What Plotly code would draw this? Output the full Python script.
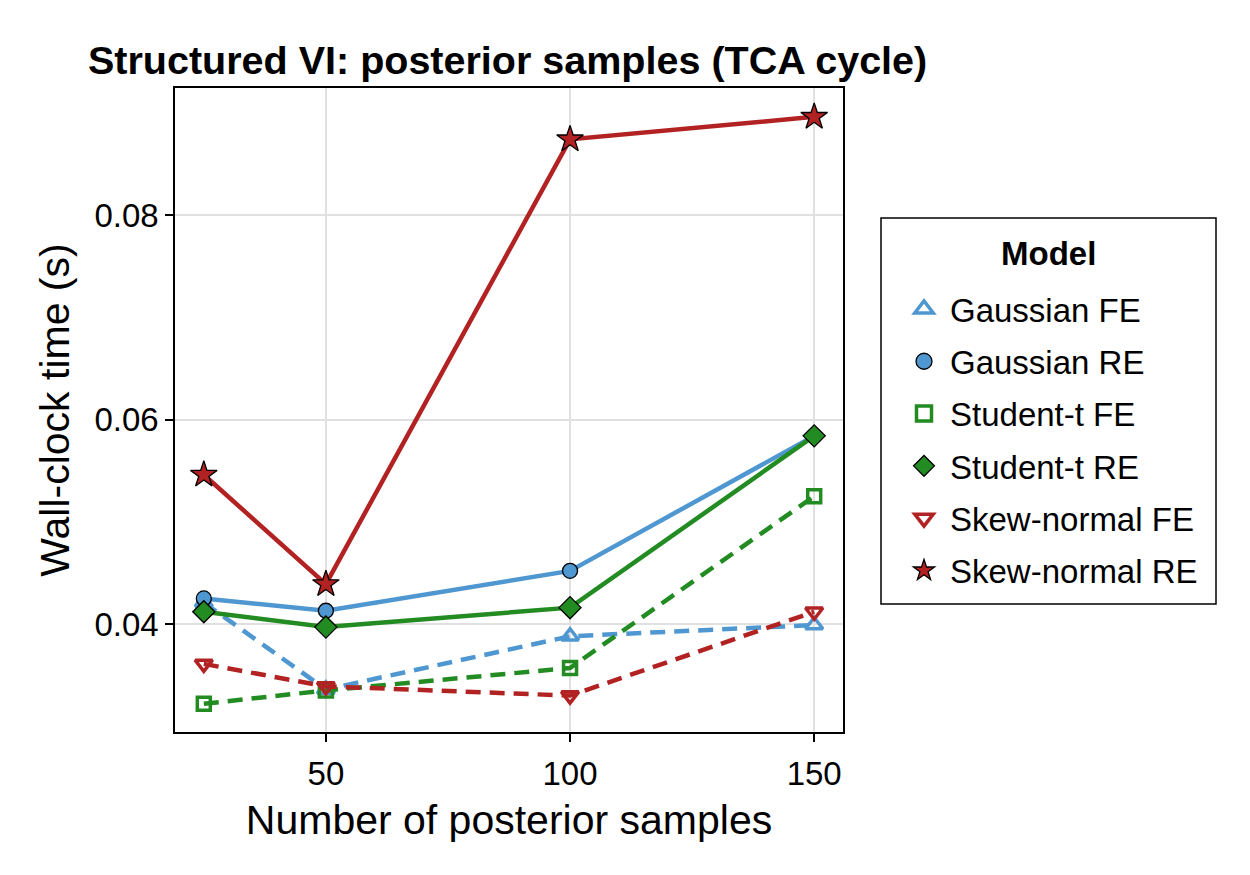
import plotly.graph_objects as go

samples = [25, 50, 100, 150]
gaussian_fe = [0.0421, 0.0336, 0.0388, 0.0399]
gaussian_re = [0.0425, 0.0413, 0.0452, 0.0584]
student_fe = [0.0322, 0.0335, 0.0357, 0.0525]
student_re = [0.0412, 0.0397, 0.0416, 0.0584]
skew_fe = [0.0361, 0.0339, 0.0330, 0.0412]
skew_re = [0.0546, 0.0439, 0.0874, 0.0896]

BLUE = "#4f97d1"
GREEN = "#228b22"
RED = "#b22222"

series = [
    ("Gaussian FE", gaussian_fe, BLUE, "triangle-up-open", "dash", 15),
    ("Gaussian RE", gaussian_re, BLUE, "circle", "solid", 15),
    ("Student-t FE", student_fe, GREEN, "square-open", "dash", 13),
    ("Student-t RE", student_re, GREEN, "diamond", "solid", 17),
    ("Skew-normal FE", skew_fe, RED, "triangle-down-open", "dash", 15),
    ("Skew-normal RE", skew_re, RED, "star", "solid", 20),
]

fig = go.Figure()
for i, (name, ys, col, sym, dash, size) in enumerate(series):
    is_open = sym.endswith("-open")
    marker = dict(symbol=sym, size=size, color=col,
                  line=dict(color=col if is_open else "black", width=3.5 if is_open else 1.3))
    fig.add_trace(go.Scatter(
        x=samples, y=ys, name=name, mode="lines+markers",
        line=dict(color=col, width=4.5, dash="15px,9px" if dash == "dash" else "solid"),
        marker=marker, showlegend=False,
    ))
for i, (name, ys, col, sym, dash, size) in enumerate(series):
    is_open = sym.endswith("-open")
    marker = dict(symbol=sym, size=size + 2, color=col,
                  line=dict(color=col if is_open else "black", width=3.5 if is_open else 1.3))
    fig.add_trace(go.Scatter(
        x=[None], y=[None], name=name, mode="markers",
        marker=marker, legendgroup=f"g{i}", showlegend=True,
    ))

# plot-area pixel geometry used to place the legend box in paper coordinates
L, R, T, B = 175, 843, 88, 732
PW, PH = R - L, B - T
def px(x):
    return (x - L) / PW
def py(y):
    return (B - y) / PH

font = "Liberation Sans, Arial, sans-serif"
fig.update_layout(
    width=1250, height=875,
    margin=dict(l=L, r=1250 - R, t=T, b=875 - B),
    paper_bgcolor="white", plot_bgcolor="white",
    font=dict(family=font, size=33, color="black"),
    title=dict(text="<b>Structured VI: posterior samples (TCA cycle)</b>",
               x=88 / 1250, xref="container", xanchor="left",
               y=1 - 60 / 875, yref="container", yanchor="middle",
               font=dict(size=39.5, family=font)),
    showlegend=True,
    legend=dict(
        x=px(898), y=py(281), xanchor="left", yanchor="top",
        borderwidth=0, bgcolor="rgba(0,0,0,0)",
        traceorder="grouped", tracegroupgap=6.4, itemwidth=42,
        font=dict(size=33),
    ),
    shapes=[dict(type="rect", xref="paper", yref="paper",
                 x0=px(881), x1=px(1216), y0=py(604), y1=py(218),
                 line=dict(color="black", width=1.5), fillcolor="rgba(0,0,0,0)")],
    annotations=[dict(text="<b>Model</b>", xref="paper", yref="paper",
                      x=px(1048), y=py(253), xanchor="center", yanchor="middle",
                      showarrow=False, font=dict(size=33))],
    xaxis=dict(
        range=[19.1, 155.9], tickvals=[50, 100, 150],
        showgrid=True, gridcolor="#e0e0e0", gridwidth=1.5,
        showline=True, linecolor="black", linewidth=1.5, mirror=True,
        ticks="outside", ticklen=8, tickwidth=1.5, tickcolor="black",
        ticklabelstandoff=4,
        zeroline=False,
        title=dict(text="Number of posterior samples", font=dict(size=41), standoff=14),
    ),
    yaxis=dict(
        range=[0.02944, 0.09242], tickvals=[0.04, 0.06, 0.08], tickformat=".2f",
        showgrid=True, gridcolor="#e0e0e0", gridwidth=1.5,
        showline=True, linecolor="black", linewidth=1.5, mirror=True,
        ticks="outside", ticklen=8, tickwidth=1.5, tickcolor="black",
        zeroline=False,
        title=dict(text="Wall-clock time (s)", font=dict(size=41), standoff=12),
    ),
)

fig.write_html("out.html")
